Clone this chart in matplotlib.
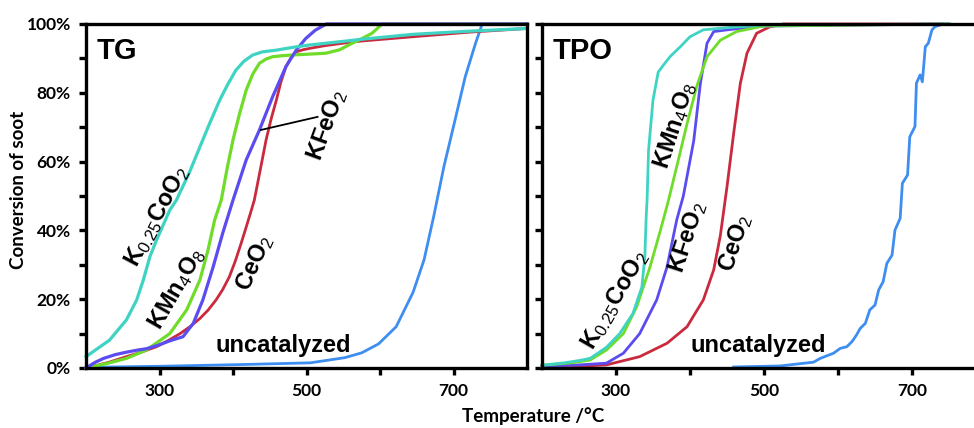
import matplotlib
matplotlib.use('Agg')
import matplotlib.pyplot as plt

plt.rcParams['mathtext.fontset'] = 'custom'
plt.rcParams['mathtext.rm'] = 'Liberation Sans'
plt.rcParams['mathtext.it'] = 'Liberation Sans:italic'
plt.rcParams['mathtext.bf'] = 'Liberation Sans:bold'

# ---------------- data: TG panel ----------------
tg_k025_T = [200, 232, 255, 269, 278, 287, 296, 314, 323, 341, 355, 368, 382, 393, 404, 415, 427, 440, 459, 481, 504, 552, 572, 645, 720, 800]
tg_k025_y = [3.3, 8.1, 14, 19.8, 25.6, 32.4, 37.2, 45.9, 48.8, 57, 64.3, 71, 77.9, 82.5, 86.6, 89.2, 91, 91.9, 92.4, 93.2, 93.9, 95, 95.5, 97, 97.9, 98.7]

tg_kmn_T = [200, 230, 255, 282, 314, 337, 355, 366, 375, 384, 392, 400, 409, 418, 427, 436, 445, 454, 468, 481, 500, 526, 545, 562, 575, 589, 603, 800]
tg_kmn_y = [0, 1.4, 2.8, 5.2, 10, 16.9, 25.6, 34.3, 43, 48.8, 58, 66.3, 74, 80.8, 85.5, 88.6, 89.8, 90.5, 90.8, 91, 91.2, 91.5, 92.5, 94.4, 95.7, 97.3, 100, 100]

tg_kfe_T = [200, 212, 224, 240, 255, 270, 282, 298, 314, 332, 346, 359, 373, 386, 400, 418, 436, 454, 472, 486, 499, 512, 527, 800]
tg_kfe_y = [0, 1.6, 2.8, 3.9, 4.6, 5.2, 5.6, 6.6, 7.9, 9.1, 13, 19.8, 29.4, 39.2, 48.8, 60.5, 69.2, 78.9, 87.6, 92.4, 95.8, 98.2, 100, 100]

tg_ceo_T = [200, 230, 255, 275, 296, 312, 328, 342, 355, 366, 377, 386, 395, 403, 411, 418, 425, 429, 437, 445, 452, 459, 465, 472, 479, 486, 495, 504, 525, 549, 572, 645, 720, 800]
tg_ceo_y = [0, 1.6, 3.3, 4.6, 6.2, 8, 10, 12.1, 14.4, 16.8, 19.8, 22.8, 26.5, 31, 36.2, 41, 45.9, 48.8, 57.5, 66.3, 72.5, 77.9, 83, 87.6, 90.2, 91.9, 92.5, 92.9, 93.7, 94.4, 95, 96.3, 97.6, 98.7]

tg_unc_T = [200, 300, 411, 505, 552, 575, 598, 622, 645, 660, 673, 687, 702, 716, 730, 739, 800]
tg_unc_y = [0.2, 0.5, 1.0, 1.5, 3.0, 4.4, 7.0, 12.0, 22.0, 31.5, 44.0, 58.6, 72.0, 84.7, 94.4, 100, 100]

# ---------------- data: TPO panel ----------------
tpo_k025_T = [200, 230, 251, 265, 287, 305, 323, 335, 339, 340, 341, 342, 344, 350, 357, 365, 373, 387, 400, 418, 454, 499, 750]
tpo_k025_y = [0.8, 1.5, 2.2, 2.8, 6.0, 10.0, 15.9, 23.6, 32.4, 39, 45, 48.8, 63.3, 77.9, 86.0, 88.3, 90.5, 93.4, 96.3, 98.3, 99.0, 99.7, 100]

tpo_kmn_T = [200, 240, 265, 287, 310, 328, 346, 360, 371, 382, 396, 409, 423, 441, 463, 499, 750]
tpo_kmn_y = [0.8, 1.5, 2.3, 5.2, 10.0, 17.8, 29.4, 40.0, 48.8, 58.5, 71.0, 81.8, 90.5, 95.3, 97.8, 99.4, 100]

tpo_kfe_T = [200, 250, 287, 310, 332, 355, 369, 382, 391, 405, 414, 423, 432, 454, 499, 750]
tpo_kfe_y = [0.5, 0.9, 1.4, 4.3, 10.0, 19.8, 29.4, 43.0, 50.0, 66.0, 82.7, 94.4, 97.8, 98.4, 99.4, 100]

tpo_ceo_T = [200, 250, 287, 332, 369, 396, 418, 432, 441, 450, 459, 468, 477, 490, 508, 526, 740]
tpo_ceo_y = [0.3, 0.5, 0.9, 3.3, 7.2, 12.0, 19.8, 28.5, 38.5, 52.7, 68.2, 82.7, 91.5, 97.3, 99.2, 100, 100]

tpo_unc_T = [459, 522, 567, 576, 594, 603, 612, 619, 625, 630, 637, 643, 650, 655, 661, 666, 673, 677, 684, 687, 694, 697, 704, 706, 711, 714, 718, 722, 727, 731, 742]
tpo_unc_y = [0.3, 0.6, 1.7, 2.8, 4.3, 5.7, 6.2, 7.7, 9.6, 11.5, 13.0, 16.9, 18.3, 22.7, 25.1, 30.4, 32.8, 40.1, 43.5, 53.7, 56.1, 67.2, 70.2, 82.8, 85.2, 83.2, 93.4, 94.4, 98.3, 99.2, 100]

y_ticks = [0, 20, 40, 60, 80, 100]
y_ticklabels = ['0%', '20%', '40%', '60%', '80%', '100%']
x_ticks = [300, 400, 500, 600, 700]
x_ticklabels = ['300', '', '500', '', '700']

c_k025 = '#3fd3c4'
c_kmn = '#6fdc2a'
c_kfe = '#5a4cf0'
c_ceo = '#c92a3e'
c_unc = '#3d8ef0'

W, H = 974, 428
fig = plt.figure(figsize=(W / 100, H / 100), dpi=100)

ax1 = fig.add_axes([86 / W, (H - 368) / H, 441 / W, 344 / H])
ax2 = fig.add_axes([542 / W, (H - 368) / H, 444 / W, 344 / H])

lw = 2.0
lab_font = dict(family='Liberation Sans', fontweight='bold', fontsize=17)


def style(ax, show_labels):
    ax.set_xlim(200, 800)
    ax.set_ylim(0, 100)
    ax.set_xticks(x_ticks)
    ax.set_xticklabels(x_ticklabels if True else [])
    ax.set_yticks(list(range(0, 101, 10)))
    if show_labels:
        ax.set_yticklabels([y_ticklabels[y_ticks.index(v)] if v in y_ticks else '' for v in range(0, 101, 10)])
    else:
        ax.set_yticklabels([])
    for s in ax.spines.values():
        s.set_linewidth(2.4)
    ax.tick_params(direction='out', length=5, width=2.4, pad=6, labelsize=12.5)
    for lab in ax.get_xticklabels() + ax.get_yticklabels():
        lab.set_fontfamily('Lato')
        lab.set_fontweight('bold')


# TG panel
ax1.plot(tg_unc_T, tg_unc_y, color=c_unc, lw=lw, clip_on=False)
ax1.plot(tg_ceo_T, tg_ceo_y, color=c_ceo, lw=lw, clip_on=False)
ax1.plot(tg_kmn_T, tg_kmn_y, color=c_kmn, lw=lw + 0.3, clip_on=False)
ax1.plot(tg_kfe_T, tg_kfe_y, color=c_kfe, lw=lw + 0.3, clip_on=False)
ax1.plot(tg_k025_T, tg_k025_y, color=c_k025, lw=lw + 0.3, clip_on=False)
style(ax1, True)

ax1.text(0.023, 0.962, 'TG', transform=ax1.transAxes, ha='left', va='top',
         family='Liberation Sans', fontweight='bold', fontsize=21)
ax1.text(296, 44, r'K$_{0.25}$CoO$_2$', rotation=62, ha='center', va='center', rotation_mode='anchor', **lab_font)
ax1.text(324, 23, r'KMn$_4$O$_8$', rotation=60, ha='center', va='center', rotation_mode='anchor', **lab_font)
ax1.text(430, 30.5, r'CeO$_2$', rotation=66, ha='center', va='center', rotation_mode='anchor', **lab_font)
ax1.text(528, 70.5, r'KFeO$_2$', rotation=70, ha='center', va='center', rotation_mode='anchor', **lab_font)
ax1.text(468, 6.5, 'uncatalyzed', ha='center', va='center', **lab_font)
ax1.plot([438, 515], [69.2, 73], color='black', lw=1.3)

# TPO panel
ax2.plot(tpo_unc_T, tpo_unc_y, color=c_unc, lw=lw, clip_on=False)
ax2.plot(tpo_ceo_T, tpo_ceo_y, color=c_ceo, lw=lw, clip_on=False)
ax2.plot(tpo_kfe_T, tpo_kfe_y, color=c_kfe, lw=lw, clip_on=False)
ax2.plot(tpo_kmn_T, tpo_kmn_y, color=c_kmn, lw=lw, clip_on=False)
ax2.plot(tpo_k025_T, tpo_k025_y, color=c_k025, lw=lw, clip_on=False)
style(ax2, False)

ax2.text(0.023, 0.962, 'TPO', transform=ax2.transAxes, ha='left', va='top',
         family='Liberation Sans', fontweight='bold', fontsize=21)
ax2.text(298.6, 19.8, r'K$_{0.25}$CoO$_2$', rotation=60, ha='center', va='center', rotation_mode='anchor', **lab_font)
ax2.text(380, 70.6, r'KMn$_4$O$_8$', rotation=72, ha='center', va='center', rotation_mode='anchor', **lab_font)
ax2.text(396, 38, r'KFeO$_2$', rotation=72, ha='center', va='center', rotation_mode='anchor', **lab_font)
ax2.text(461, 36.3, r'CeO$_2$', rotation=72, ha='center', va='center', rotation_mode='anchor', **lab_font)
ax2.text(492, 6.4, 'uncatalyzed', ha='center', va='center', **lab_font)

fig.text(19 / W, 1 - 190 / H, 'Conversion of soot', rotation=90, ha='center', va='center',
         family='Lato', fontweight='bold', fontsize=13.5)
fig.text(533 / W, 1 - 416 / H, 'Temperature /°C', ha='center', va='center',
         family='Lato', fontweight='bold', fontsize=13.5)

fig.savefig('out.png', dpi=100)
